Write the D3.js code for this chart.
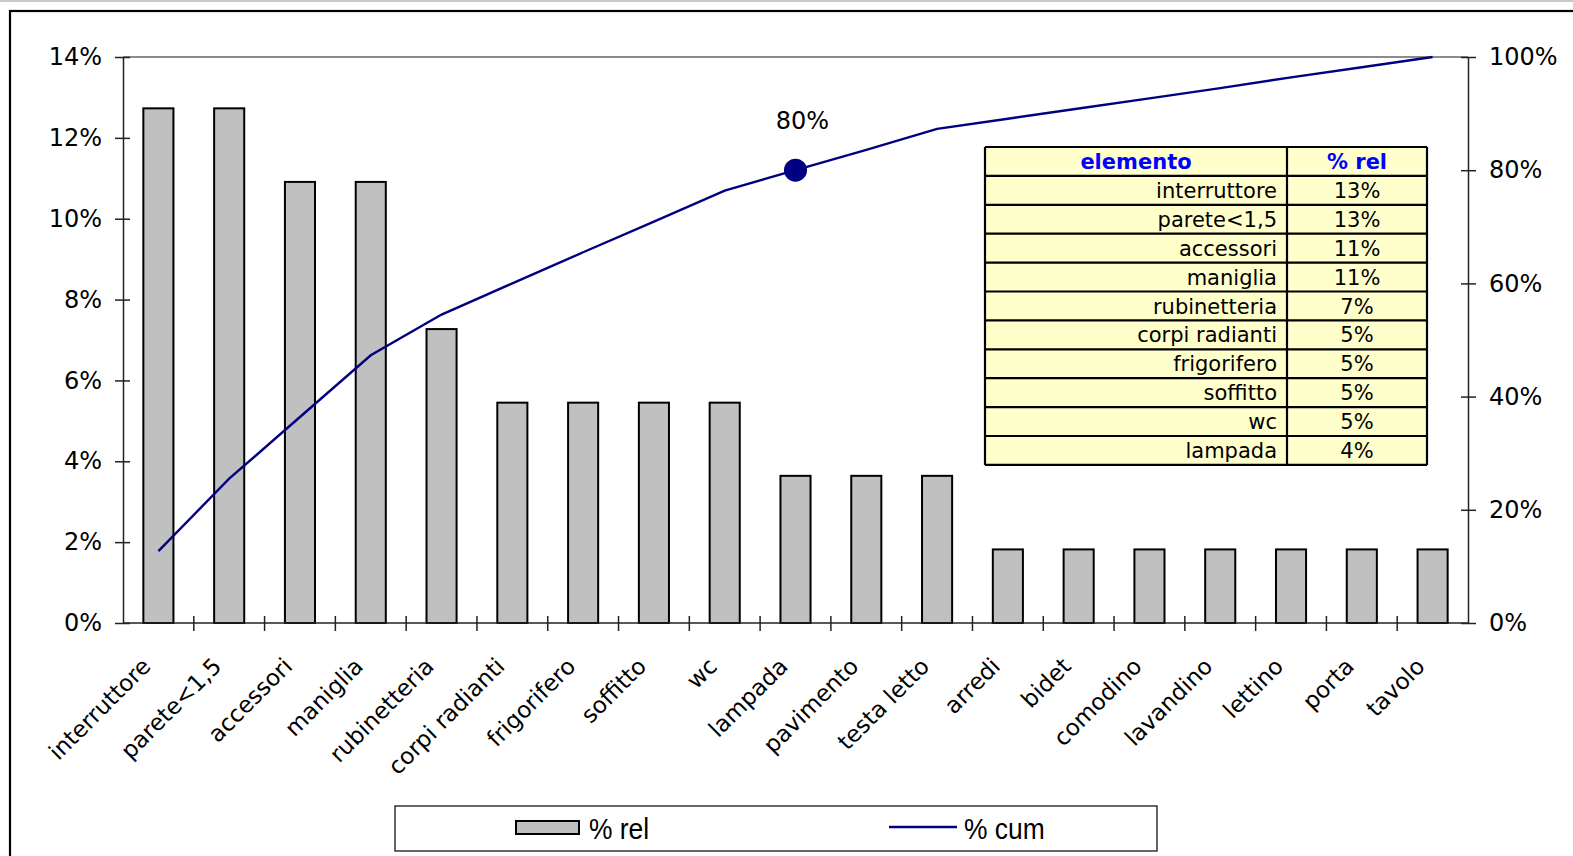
<!DOCTYPE html>
<html>
<head>
<meta charset="utf-8">
<script src="https://cdn.jsdelivr.net/npm/d3@7"></script>
<style>
  html, body { margin: 0; padding: 0; background: #fff; }
  svg { display: block; }
  text { font-family: "DejaVu Sans", Verdana, sans-serif; fill: #000; }
</style>
</head>
<body>
<svg id="chart" width="1573" height="856"></svg>
<script>
// Pareto data: relative share of each element and running cumulative share (in %)
const categories = ["interruttore", "parete<1,5", "accessori", "maniglia", "rubinetteria",
  "corpi radianti", "frigorifero", "soffitto", "wc", "lampada", "pavimento", "testa letto",
  "arredi", "bidet", "comodino", "lavandino", "lettino", "porta", "tavolo"];
const relPct = [12.73, 12.73, 10.91, 10.91, 7.27, 5.45, 5.45, 5.45, 5.45, 3.64, 3.64, 3.64,
  1.82, 1.82, 1.82, 1.82, 1.82, 1.82, 1.82];
const cumPct = [12.7, 25.5, 36.4, 47.3, 54.5, 60.0, 65.5, 70.9, 76.4, 80.0, 83.6, 87.3,
  89.1, 90.9, 92.7, 94.5, 96.4, 98.2, 100];
const leftTicks = [0, 2, 4, 6, 8, 10, 12, 14];
const rightTicks = [0, 20, 40, 60, 80, 100];
const markerIndex = 9;          // point where the cumulative curve reaches 80%
const markerLabel = "80%";
const tableRows = 10;           // elements listed in the summary table
const tableHeader = ["elemento", "% rel"];
const legendLabels = ["% rel", "% cum"];

const svg = d3.select("#chart");
const W = 1573, H = 856;
const plot = { left: 123, right: 1468, top: 57, bottom: 623 };

// outer chart frame
svg.append("line").attr("x1", 0).attr("x2", W).attr("y1", 1).attr("y2", 1)
  .attr("stroke", "#c8c8c8").attr("stroke-width", 2);
svg.append("rect").attr("x", 10).attr("y", 11).attr("width", W + 40).attr("height", H + 40)
  .attr("fill", "none").attr("stroke", "#000").attr("stroke-width", 2.2);

// scales
const x = d3.scaleBand().domain(categories).range([plot.left, plot.right])
  .paddingInner(0.575).paddingOuter(0.2875);
const slot = d3.scaleBand().domain(categories).range([plot.left, plot.right]).padding(0);
const yL = d3.scaleLinear().domain([0, 14]).range([plot.bottom, plot.top]);
const yR = d3.scaleLinear().domain([0, 100]).range([plot.bottom, plot.top]);
const cx = d => x(d) + x.bandwidth() / 2;

// top border of the plot area
svg.append("line").attr("x1", plot.left).attr("x2", plot.right)
  .attr("y1", plot.top).attr("y2", plot.top).attr("stroke", "#8c8c8c").attr("stroke-width", 2);

// bars
svg.append("g").selectAll("rect").data(categories).join("rect")
  .attr("x", d => x(d))
  .attr("width", x.bandwidth())
  .attr("y", (d, i) => yL(relPct[i]))
  .attr("height", (d, i) => yL(0) - yL(relPct[i]))
  .attr("fill", "#c0c0c0").attr("stroke", "#000").attr("stroke-width", 2);

// left axis
const gL = svg.append("g").attr("transform", `translate(${plot.left},0)`)
  .call(d3.axisLeft(yL).tickValues(leftTicks).tickFormat(d => d + "%").tickSize(0).tickPadding(21));
gL.select(".domain").attr("stroke", "#222").attr("stroke-width", 1.5);
gL.selectAll(".tick line").attr("x1", -8).attr("x2", 7).attr("stroke", "#222").attr("stroke-width", 1.5);
gL.selectAll(".tick text").style("font-size", "24px").style("font-family", "DejaVu Sans").attr("fill", "#000");

// right axis
const gR = svg.append("g").attr("transform", `translate(${plot.right},0)`)
  .call(d3.axisRight(yR).tickValues(rightTicks).tickFormat(d => d + "%").tickSize(0).tickPadding(21));
gR.select(".domain").attr("stroke", "#222").attr("stroke-width", 1.5);
gR.selectAll(".tick line").attr("x1", -7).attr("x2", 8).attr("stroke", "#222").attr("stroke-width", 1.5);
gR.selectAll(".tick text").style("font-size", "24px").style("font-family", "DejaVu Sans").attr("fill", "#000");

// category axis with tick marks between slots
const gX = svg.append("g").attr("transform", `translate(0,${plot.bottom})`);
gX.append("line").attr("x1", plot.left).attr("x2", plot.right).attr("stroke", "#222").attr("stroke-width", 1.5);
gX.selectAll("line.tk").data(categories.slice(1)).join("line").attr("class", "tk")
  .attr("x1", d => slot(d)).attr("x2", d => slot(d)).attr("y1", -7).attr("y2", 8)
  .attr("stroke", "#222").attr("stroke-width", 1.5);
gX.selectAll("text").data(categories).join("text")
  .attr("transform", d => `translate(${cx(d) - 12},${39}) rotate(-45)`)
  .attr("text-anchor", "end").attr("dy", "0.35em")
  .style("font-size", "23px")
  .text(d => d);

// cumulative line
const line = d3.line().x((d, i) => cx(categories[i])).y(d => yR(d));
svg.append("path").datum(cumPct).attr("d", line)
  .attr("fill", "none").attr("stroke", "#000080").attr("stroke-width", 2.4);

// 80% marker
svg.append("circle").attr("cx", cx(categories[markerIndex])).attr("cy", yR(cumPct[markerIndex]))
  .attr("r", 11.5).attr("fill", "#000080");
svg.append("text").attr("x", cx(categories[markerIndex]) + 7).attr("y", yR(cumPct[markerIndex]) - 41)
  .attr("text-anchor", "middle").style("font-size", "24px").text(markerLabel);

// summary table of the main elements
const tbl = { x: 985, y: 147, w1: 302, w2: 140, rh: 28.9 };
const fmt = d3.format(".0%");
const rows = [tableHeader].concat(categories.slice(0, tableRows).map((c, i) => [c, fmt(relPct[i] / 100)]));
const gT = svg.append("g");
gT.append("rect").attr("x", tbl.x).attr("y", tbl.y).attr("width", tbl.w1 + tbl.w2)
  .attr("height", tbl.rh * rows.length).attr("fill", "#ffffcc");
rows.forEach((r, i) => {
  const yTop = tbl.y + i * tbl.rh;
  const yMid = yTop + tbl.rh / 2;
  if (i === 0) {
    gT.append("text").attr("x", tbl.x + tbl.w1 / 2).attr("y", yMid).attr("dy", "0.36em")
      .attr("text-anchor", "middle").style("font-size", "21px").style("font-weight", "bold")
      .style("fill", "#0000ff").text(r[0]);
    gT.append("text").attr("x", tbl.x + tbl.w1 + tbl.w2 / 2).attr("y", yMid).attr("dy", "0.36em")
      .attr("text-anchor", "middle").style("font-size", "21px").style("font-weight", "bold")
      .style("fill", "#0000ff").text(r[1]);
  } else {
    gT.append("text").attr("x", tbl.x + tbl.w1 - 10).attr("y", yMid).attr("dy", "0.36em")
      .attr("text-anchor", "end").style("font-size", "21px").text(r[0]);
    gT.append("text").attr("x", tbl.x + tbl.w1 + tbl.w2 / 2).attr("y", yMid).attr("dy", "0.36em")
      .attr("text-anchor", "middle").style("font-size", "21px").text(r[1]);
  }
});
// grid of the table
for (let i = 0; i <= rows.length; i++) {
  gT.append("line").attr("x1", tbl.x).attr("x2", tbl.x + tbl.w1 + tbl.w2)
    .attr("y1", tbl.y + i * tbl.rh).attr("y2", tbl.y + i * tbl.rh)
    .attr("stroke", "#000").attr("stroke-width", 2.2);
}
[0, tbl.w1, tbl.w1 + tbl.w2].forEach(dx => {
  gT.append("line").attr("x1", tbl.x + dx).attr("x2", tbl.x + dx)
    .attr("y1", tbl.y).attr("y2", tbl.y + tbl.rh * rows.length)
    .attr("stroke", "#000").attr("stroke-width", 2.2);
});

// legend
const gLg = svg.append("g");
gLg.append("rect").attr("x", 395).attr("y", 806).attr("width", 762).attr("height", 45)
  .attr("fill", "#fff").attr("stroke", "#000").attr("stroke-width", 1.2);
gLg.append("rect").attr("x", 516).attr("y", 821).attr("width", 63).attr("height", 13)
  .attr("fill", "#c0c0c0").attr("stroke", "#000").attr("stroke-width", 2);
gLg.append("text").attr("transform", "translate(589,839) scale(0.88,1)")
  .style("font-family", "'Liberation Sans', Arial, sans-serif")
  .style("font-size", "30px").text(legendLabels[0]);
gLg.append("line").attr("x1", 889).attr("x2", 957).attr("y1", 827).attr("y2", 827)
  .attr("stroke", "#000080").attr("stroke-width", 2.4);
gLg.append("text").attr("transform", "translate(964,839) scale(0.88,1)")
  .style("font-family", "'Liberation Sans', Arial, sans-serif")
  .style("font-size", "30px").text(legendLabels[1]);
</script>
</body>
</html>
